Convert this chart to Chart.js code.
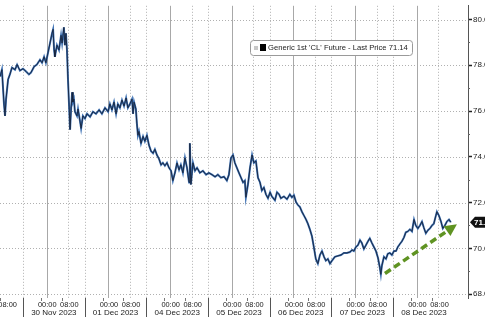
<!DOCTYPE html>
<html>
<head>
<meta charset="utf-8">
<script src="https://cdn.jsdelivr.net/npm/chart.js@4.4.0/dist/chart.umd.min.js"></script>
<style>
  html, body { margin: 0; padding: 0; background: #fff; overflow: hidden; }
  #wrap { width: 500px; height: 317px; position: relative; }
</style>
</head>
<body>
<div id="wrap"><canvas id="chart"></canvas></div>
<script>
// x = trading hours counted from 17:00 on 29 Nov (start of the 30 Nov session), weekend skipped
const hours = [-8.9,-8.2,-7.4,-7.0,-6.6,-5.8,-5.1,-4.3,-3.1,-2.3,-1.2,0.0,1.2,2.3,3.1,4.3,5.4,6.6,7.4,8.2,8.9,9.7,10.5,11.3,11.7,12.1,12.4,13.2,14.0,14.8,15.2,15.9,16.3,16.7,17.1,17.5,17.9,18.3,18.7,19.1,19.4,19.8,20.2,21.0,21.4,22.2,22.6,23.3,24.1,24.9,26.1,27.2,28.4,29.6,30.7,31.9,33.1,33.8,34.6,35.4,36.2,36.9,37.7,38.5,39.3,40.1,40.8,41.6,42.4,42.8,43.2,43.9,44.3,44.7,45.1,45.9,46.7,47.4,48.2,49.0,49.8,50.6,51.3,52.1,52.9,53.7,54.4,55.2,56.0,56.8,57.6,58.3,59.1,59.9,60.7,61.4,62.2,63.0,63.8,64.6,64.9,65.3,66.1,66.9,67.7,68.8,70.0,71.2,72.3,73.5,74.7,75.8,77.0,78.2,79.3,80.1,80.9,81.7,82.4,83.2,84.0,84.8,85.6,86.3,86.7,87.5,88.3,89.1,89.8,90.6,91.4,92.2,92.9,93.7,94.5,95.3,96.1,96.8,98.0,98.8,99.6,100.3,101.5,102.7,103.8,104.6,105.4,106.2,106.9,107.7,108.5,109.3,110.1,110.8,111.6,112.4,113.2,113.9,114.7,115.5,116.3,117.1,117.8,118.6,119.4,120.2,121.3,122.5,123.7,124.8,126.0,127.2,128.0,128.7,129.5,130.3,131.1,131.8,132.6,133.4,134.2,134.9,135.7,136.5,137.3,138.1,138.8,139.2,139.6,140.4,141.2,141.9,142.7,143.5,144.3,145.1,145.8,146.6,147.4,148.2,148.9,149.7,150.5,151.3,152.1,152.8,153.6,154.4,155.2,155.9,156.7,157.5,158.3,159.1,159.8,160.6,161.0,161.8,162.6,163.3,164.1,164.9,165.7,166.4];
const prices = [77.51,77.81,76.31,75.79,76.52,77.38,77.60,77.90,77.81,78.03,77.77,77.85,77.73,77.60,77.68,77.94,78.03,78.24,78.11,78.37,78.11,78.54,78.97,79.40,79.57,78.67,78.37,78.88,78.67,79.31,78.97,79.66,78.88,79.40,78.67,77.38,76.31,75.19,76.09,76.82,76.39,76.52,75.97,75.79,76.09,75.54,75.24,75.79,75.67,75.88,75.75,75.97,75.88,76.05,75.88,76.14,75.97,76.31,76.05,76.39,75.88,76.31,76.14,76.48,76.22,76.57,76.14,76.31,76.52,75.88,76.39,76.09,75.45,74.94,75.11,74.59,74.89,74.68,74.94,74.51,74.25,74.16,74.33,74.08,73.91,73.65,73.74,73.61,73.74,73.52,73.39,72.96,73.30,73.73,73.43,73.65,73.30,73.95,73.52,72.88,74.59,72.79,73.74,73.39,73.52,73.30,73.39,73.22,73.30,73.22,73.13,73.22,73.09,73.13,72.96,73.22,73.95,74.08,73.74,73.52,73.30,73.09,72.88,72.96,72.23,72.79,73.52,74.08,73.74,73.82,73.09,72.88,72.53,72.66,72.36,72.19,72.45,72.27,72.10,72.45,72.36,72.19,72.27,72.15,72.36,72.23,72.32,72.02,71.90,71.81,71.60,71.43,71.26,71.08,70.83,70.53,70.01,69.54,69.33,69.71,69.88,69.63,69.46,69.54,69.33,69.46,69.63,69.67,69.71,69.80,69.80,69.84,69.93,69.88,70.06,70.14,70.36,70.24,69.97,70.14,70.31,70.44,70.24,70.06,69.88,69.58,69.16,68.86,69.24,69.63,69.54,69.76,69.80,69.71,69.88,69.88,70.06,70.19,70.31,70.48,70.70,70.74,70.83,70.74,71.26,71.00,70.87,71.00,71.17,70.91,70.66,70.79,70.87,71.00,71.08,71.43,71.60,71.43,71.17,70.87,71.00,71.17,71.26,71.14];

const dayLabels = ['30 Nov 2023', '01 Dec 2023', '04 Dec 2023', '05 Dec 2023', '06 Dec 2023', '07 Dec 2023', '08 Dec 2023'];
const timeLabels = ['00:00', '08:00'];
const timeOffsets = [7, 15];          // hours after session start
const yTicks = [68, 70, 72, 74, 76, 78, 80];
const lastPrice = 71.14;
const seriesName = "Generic 1st 'CL' Future - Last Price 71.14";
const arrowFrom = [140.8, 68.9];
const arrowTo = [168.8, 71.05];

const FONT = "'Liberation Sans', Arial, sans-serif";

function seg(ctx, x1, y1, x2, y2) {
  ctx.beginPath();
  ctx.moveTo(x1, y1);
  ctx.lineTo(x2, y2);
  ctx.stroke();
}

const bbgPlugin = {
  id: 'bbg',
  beforeDatasetsDraw(chart) {
    const { ctx, chartArea: a, scales: { x, y } } = chart;
    ctx.save();
    ctx.lineWidth = 1;
    ctx.strokeStyle = '#b0b0b0';
    ctx.setLineDash([1, 2]);
    yTicks.forEach(v => {
      const py = Math.round(y.getPixelForValue(v)) + 0.5;
      seg(ctx, a.left, py, a.right, py);
    });
    for (let k = 0; k < dayLabels.length; k++) {
      [24 * k, 24 * k + 17.6].forEach(h => {
        const px = Math.round(x.getPixelForValue(h)) + 0.5;
        seg(ctx, px, a.top, px, a.bottom);
      });
    }
    ctx.setLineDash([]);
    ctx.strokeStyle = '#a8a8a8';
    for (let k = 0; k < dayLabels.length; k++) {
      const px = Math.round(x.getPixelForValue(24 * k + 9.2)) + 0.5;
      seg(ctx, px, a.top, px, a.bottom);
    }
    ctx.restore();
  },
  afterDraw(chart) {
    const { ctx, chartArea: a, scales: { x, y } } = chart;
    const H = chart.height;
    ctx.save();

    // x axis: session separators, time ticks and labels
    ctx.lineWidth = 1;
    ctx.strokeStyle = '#555';
    for (let k = 0; k < dayLabels.length; k++) {
      const px = Math.round(x.getPixelForValue(24 * k)) + 0.5;
      seg(ctx, px, a.bottom, px, H);
    }
    ctx.fillStyle = '#222';
    ctx.textBaseline = 'middle';
    for (let k = -1; k < dayLabels.length; k++) {
      timeOffsets.forEach((off, i) => {
        const px = x.getPixelForValue(24 * k + off);
        ctx.strokeStyle = '#777';
        seg(ctx, Math.round(px) + 0.5, a.bottom, Math.round(px) + 0.5, a.bottom + 3);
        ctx.font = '7.4px ' + FONT;
        ctx.textAlign = 'left';
        ctx.fillText(timeLabels[i], px - (i === 0 ? 3 : 1.5), a.bottom + 7);
      });
      if (k >= 0) {
        ctx.font = '8px ' + FONT;
        ctx.textAlign = 'center';
        ctx.fillText(dayLabels[k], x.getPixelForValue(24 * k + 12), a.bottom + 15);
      }
    }

    // minor ticks on the price axis
    ctx.strokeStyle = '#666';
    for (let v = 69; v <= 79; v += 2) {
      const py = Math.round(y.getPixelForValue(v)) + 0.5;
      seg(ctx, a.right, py, a.right + 2, py);
    }

    // last price tag
    const ty = y.getPixelForValue(lastPrice);
    ctx.fillStyle = '#111';
    ctx.beginPath();
    ctx.moveTo(a.right + 2, ty);
    ctx.lineTo(a.right + 7, ty - 5.5);
    ctx.lineTo(chart.width, ty - 5.5);
    ctx.lineTo(chart.width, ty + 5.5);
    ctx.lineTo(a.right + 7, ty + 5.5);
    ctx.closePath();
    ctx.fill();
    ctx.fillStyle = '#fff';
    ctx.font = 'bold 8px ' + FONT;
    ctx.textAlign = 'left';
    ctx.fillText(lastPrice.toFixed(2), a.right + 6, ty + 0.5);

    // trend arrow
    const x1 = x.getPixelForValue(arrowFrom[0]), y1 = y.getPixelForValue(arrowFrom[1]);
    const x2 = x.getPixelForValue(arrowTo[0]), y2 = y.getPixelForValue(arrowTo[1]);
    const ang = Math.atan2(y2 - y1, x2 - x1);
    const headLen = 12;
    const bx = x2 - headLen * Math.cos(ang), by = y2 - headLen * Math.sin(ang);
    ctx.strokeStyle = '#5f9322';
    ctx.fillStyle = '#5f9322';
    ctx.lineWidth = 3.5;
    ctx.setLineDash([7, 4]);
    seg(ctx, x1, y1, bx, by);
    ctx.setLineDash([]);
    ctx.beginPath();
    ctx.moveTo(x2, y2);
    ctx.lineTo(bx + 6 * Math.sin(ang), by - 6 * Math.cos(ang));
    ctx.lineTo(bx - 6 * Math.sin(ang), by + 6 * Math.cos(ang));
    ctx.closePath();
    ctx.fill();

    // legend box
    const label = chart.data.datasets[0].label;
    let fs = 8;
    ctx.font = fs + 'px ' + FONT;
    fs = fs * 140 / ctx.measureText(label).width;
    const lx = a.left + 250, ly = 40, lw = 162, lh = 15;
    ctx.fillStyle = '#fff';
    ctx.strokeStyle = '#9a9a9a';
    ctx.lineWidth = 1;
    ctx.beginPath();
    ctx.roundRect(lx + 0.5, ly + 0.5, lw, lh, 3);
    ctx.fill();
    ctx.stroke();
    ctx.fillStyle = '#c8c8c8';
    ctx.fillRect(lx + 4, ly + 6, 4, 4);
    ctx.fillStyle = '#000';
    ctx.fillRect(lx + 10, ly + 4, 6, 7);
    ctx.fillStyle = '#222';
    ctx.font = fs.toFixed(2) + 'px ' + FONT;
    ctx.textAlign = 'left';
    ctx.fillText(label, lx + 18, ly + lh / 2 + 0.5);

    ctx.restore();
  }
};

new Chart(document.getElementById('chart'), {
  type: 'line',
  data: {
    datasets: [
      {
        label: seriesName,
        data: hours.map((h, i) => ({ x: h, y: prices[i] })),
        borderColor: '#16223a',
        borderWidth: 0.9,
        pointRadius: 0,
        tension: 0
      },
      {
        label: 'range',
        data: hours.map((h, i) => ({ x: h, y: prices[i] })),
        borderColor: '#3f72b4',
        borderWidth: 2,
        pointRadius: 0,
        tension: 0
      }
    ]
  },
  options: {
    responsive: true,
    maintainAspectRatio: false,
    animation: false,
    layout: { padding: 0 },
    plugins: { legend: { display: false }, tooltip: { enabled: false } },
    scales: {
      x: {
        type: 'linear',
        min: -8.95,
        max: 173.1,
        ticks: { display: false },
        grid: { display: false },
        border: { display: false },
        afterFit: s => { s.height = 19; }
      },
      y: {
        position: 'right',
        min: 67.83,
        max: 80.6,
        afterBuildTicks: s => { s.ticks = yTicks.map(v => ({ value: v })); },
        ticks: {
          color: '#222',
          font: { family: FONT, size: 8 },
          padding: 1,
          callback: v => v.toFixed(2)
        },
        grid: { drawOnChartArea: false, drawTicks: true, tickLength: 4, tickColor: '#222', tickWidth: 1.5 },
        border: { display: true, color: '#555', width: 1 },
        afterFit: s => { s.width = 32; }
      }
    }
  },
  plugins: [bbgPlugin]
});
</script>
</body>
</html>
